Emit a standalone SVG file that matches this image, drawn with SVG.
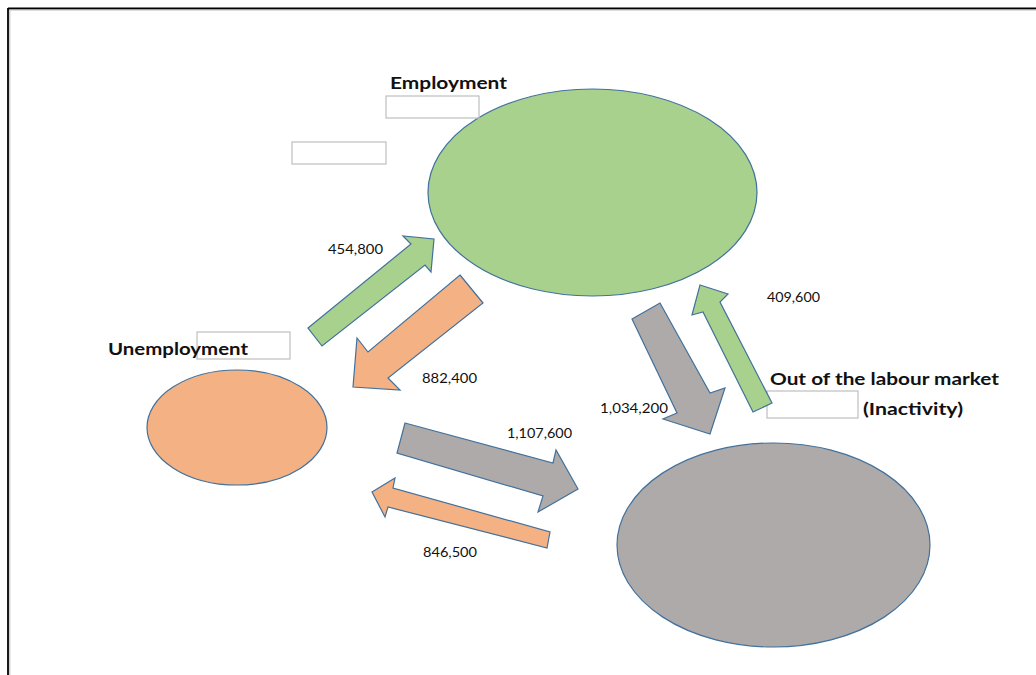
<svg xmlns="http://www.w3.org/2000/svg" width="1036" height="675" viewBox="0 0 1036 675">
<style>
.node{stroke:#41719C;stroke-width:1.2}
.emp{fill:#A9D18E}
.une{fill:#F4B183}
.ina{fill:#AEAAAA}
.title{font-family:Lato,"Liberation Sans",sans-serif;font-weight:bold;font-size:17px;fill:#111}
.num{font-family:Lato,"Liberation Sans",sans-serif;font-size:12.5px;fill:#111}
.box{fill:none;stroke:#BFBFBF;stroke-width:1.2}
.arrow{stroke:#41719C;stroke-width:1.2;stroke-linejoin:miter}
</style>
<rect x="0" y="0" width="1036" height="675" fill="#FFFFFF"/>
<g id="frame">
<line x1="8" y1="8.5" x2="1036" y2="8.5" stroke="#000" stroke-width="1.8"/>
<line x1="8" y1="8" x2="8" y2="675" stroke="#000" stroke-width="1.8"/>
<line x1="9.5" y1="10" x2="1036" y2="10" stroke="#BBBBBB" stroke-width="1"/>
<line x1="9.8" y1="10" x2="9.8" y2="675" stroke="#BBBBBB" stroke-width="1"/>
</g>
<g id="employment">
<ellipse class="node emp" cx="592.5" cy="192.5" rx="164.5" ry="103.5"/>
<text class="title" x="390" y="89" textLength="117" lengthAdjust="spacingAndGlyphs">Employment</text>
<rect class="box" x="386" y="96" width="93" height="22"/>
<rect class="box" x="292" y="142" width="94" height="22"/>
</g>
<g id="unemployment">
<ellipse class="node une" cx="237" cy="427.5" rx="90" ry="57.5"/>
<rect class="box" x="197" y="332" width="93" height="27"/>
<text class="title" x="108" y="355" textLength="140" lengthAdjust="spacingAndGlyphs">Unemployment</text>
</g>
<g id="inactivity">
<ellipse class="node ina" cx="773.5" cy="545" rx="156.5" ry="102"/>
<text class="title" x="770" y="385" textLength="229" lengthAdjust="spacingAndGlyphs">Out of the labour market</text>
<rect class="box" x="767" y="391" width="91" height="27"/>
<text class="title" x="863" y="415" textLength="100" lengthAdjust="spacingAndGlyphs">(Inactivity)</text>
</g>
<g id="connectors">
<polygon class="arrow emp" points="308,328 411,244 403,236 434,239 431,272 425,265 322,346"/>
<polygon class="arrow une" points="460,275 483,303 388,378 400,390 353,387 357,338 368,352"/>
<polygon class="arrow ina" points="632,319 660,303 710,393 725,388 710,434 663,419 677,413"/>
<polygon class="arrow emp" points="700,285 728,294 720,302 772,403 753,412 703,312 692,315"/>
<polygon class="arrow ina" points="405,423 553,463 556,450 578,489 538,512 543,496 397,453"/>
<polygon class="arrow une" points="372,492 395,478 393,488 550,532 547,548 388,507 385,517"/>
<text class="num" x="328" y="254" textLength="55" lengthAdjust="spacingAndGlyphs">454,800</text>
<text class="num" x="422" y="383" textLength="55" lengthAdjust="spacingAndGlyphs">882,400</text>
<text class="num" x="767" y="302" textLength="53" lengthAdjust="spacingAndGlyphs">409,600</text>
<text class="num" x="600" y="413" textLength="68" lengthAdjust="spacingAndGlyphs">1,034,200</text>
<text class="num" x="507" y="438" textLength="65" lengthAdjust="spacingAndGlyphs">1,107,600</text>
<text class="num" x="423" y="557" textLength="54" lengthAdjust="spacingAndGlyphs">846,500</text>
</g>
</svg>
